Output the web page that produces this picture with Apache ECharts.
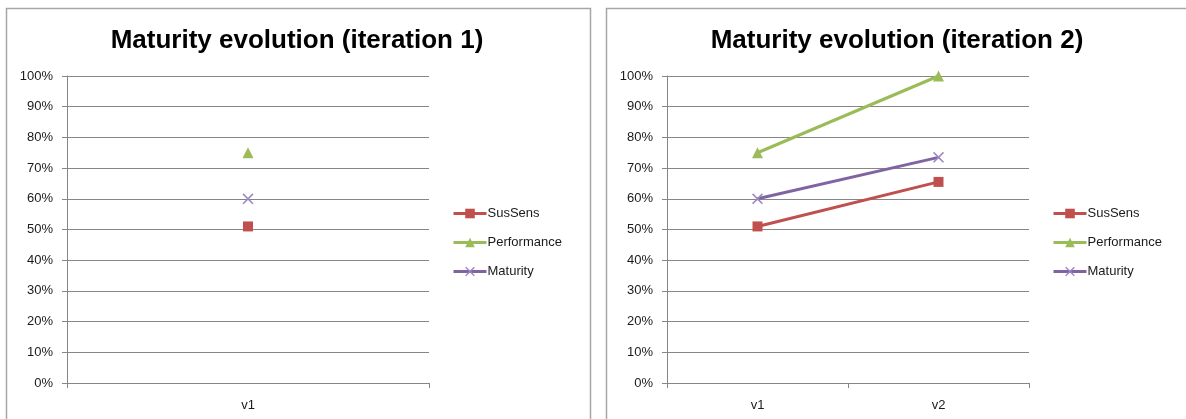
<!DOCTYPE html>
<html>
<head>
<meta charset="utf-8">
<script src="https://cdn.jsdelivr.net/npm/echarts@6/dist/echarts.min.js"></script>
<style>
html,body{margin:0;padding:0;background:#fff;}
#c{width:1186px;height:419px;}
</style>
</head>
<body>
<div id="c"></div>
<script>
// ---- data ----
const titles = ['Maturity evolution (iteration 1)', 'Maturity evolution (iteration 2)'];
const categories1 = ['v1'];
const categories2 = ['v1', 'v2'];
const seriesNames = ['SusSens', 'Performance', 'Maturity'];
const susSens1 = [51];
const performance1 = [75];
const maturity1 = [60];
const susSens2 = [51, 65.5];
const performance2 = [75, 100];
const maturity2 = [60, 73.5];
const yTicks = [0, 10, 20, 30, 40, 50, 60, 70, 80, 90, 100];

// ---- styles ----
const colors = { SusSens: '#C0504D', Performance: '#9BBB59', Maturity: '#8064A2' };
const symbols = {
  SusSens: 'rect',
  Performance: 'triangle',
  Maturity: 'path://M0,1 L1,0 L5,4 L9,0 L10,1 L6,5 L10,9 L9,10 L5,6 L1,10 L0,9 L4,5 Z'
};
const symbolSizes = { SusSens: 10, Performance: 11, Maturity: 11 };
const markerColors = { SusSens: '#C0504D', Performance: '#9BBB59', Maturity: '#9A86C2' };
const font = 'Liberation Sans, Arial, sans-serif';
const gridColor = '#868686';

const chart = echarts.init(document.getElementById('c'), null, { renderer: 'canvas' });

function mkSeries(name, data, idx) {
  return {
    name: name,
    type: 'line',
    xAxisIndex: idx,
    yAxisIndex: idx,
    data: data,
    symbol: symbols[name],
    symbolSize: symbolSizes[name],
    showAllSymbol: true,
    itemStyle: { color: markerColors[name] },
    lineStyle: { color: colors[name], width: 3 },
    emphasis: { disabled: true },
    animation: false,
    z: 3
  };
}

function mkX(cats, idx) {
  return {
    type: 'category',
    gridIndex: idx,
    data: cats,
    boundaryGap: true,
    axisLine: { lineStyle: { color: gridColor, width: 1 } },
    axisTick: { show: true, alignWithLabel: false, length: 5, lineStyle: { color: gridColor } },
    axisLabel: { color: '#1a1a1a', fontFamily: font, fontSize: 13, margin: 16 },
    splitLine: { show: false }
  };
}

function mkY(idx) {
  return {
    type: 'value',
    gridIndex: idx,
    min: yTicks[0],
    max: yTicks[yTicks.length - 1],
    interval: yTicks[1] - yTicks[0],
    axisLine: { show: true, lineStyle: { color: gridColor, width: 1 } },
    axisTick: { show: true, length: 5, lineStyle: { color: gridColor } },
    axisLabel: { color: '#1a1a1a', fontFamily: font, fontSize: 13, margin: 14, formatter: v => v + '%' },
    splitLine: { show: true, lineStyle: { color: gridColor, width: 1 } }
  };
}

function mkLegend(left) {
  return {
    data: seriesNames, orient: 'vertical', left: left, top: 202,
    itemWidth: 33, itemHeight: 12, itemGap: 16,
    lineStyle: { width: 3 },
    textStyle: { fontFamily: font, fontSize: 13, color: '#1a1a1a', padding: [0, 0, 0, -4] },
    selectedMode: false
  };
}

const option = {
  backgroundColor: '#fff',
  animation: false,
  graphic: [
    { type: 'rect', shape: { x: 6.5, y: 8.5, width: 584, height: 430 }, style: { fill: 'none', stroke: '#A6A6A6', lineWidth: 1.5 }, silent: true },
    { type: 'rect', shape: { x: 606.5, y: 8.5, width: 600, height: 430 }, style: { fill: 'none', stroke: '#A6A6A6', lineWidth: 1.5 }, silent: true }
  ],
  title: [
    { text: titles[0], left: 292, top: 23, textAlign: 'center',
      textStyle: { fontFamily: font, fontWeight: 'bold', fontSize: 26, color: '#000' } },
    { text: titles[1], left: 892, top: 23, textAlign: 'center',
      textStyle: { fontFamily: font, fontWeight: 'bold', fontSize: 26, color: '#000' } }
  ],
  legend: [mkLegend(447), mkLegend(1047)],
  grid: [
    { left: 67, top: 76, width: 362, height: 307 },
    { left: 667, top: 76, width: 362, height: 307 }
  ],
  xAxis: [mkX(categories1, 0), mkX(categories2, 1)],
  yAxis: [mkY(0), mkY(1)],
  series: [
    mkSeries('SusSens', susSens1, 0),
    mkSeries('Performance', performance1, 0),
    mkSeries('Maturity', maturity1, 0),
    mkSeries('SusSens', susSens2, 1),
    mkSeries('Performance', performance2, 1),
    mkSeries('Maturity', maturity2, 1)
  ]
};
chart.setOption(option);
</script>
</body>
</html>
